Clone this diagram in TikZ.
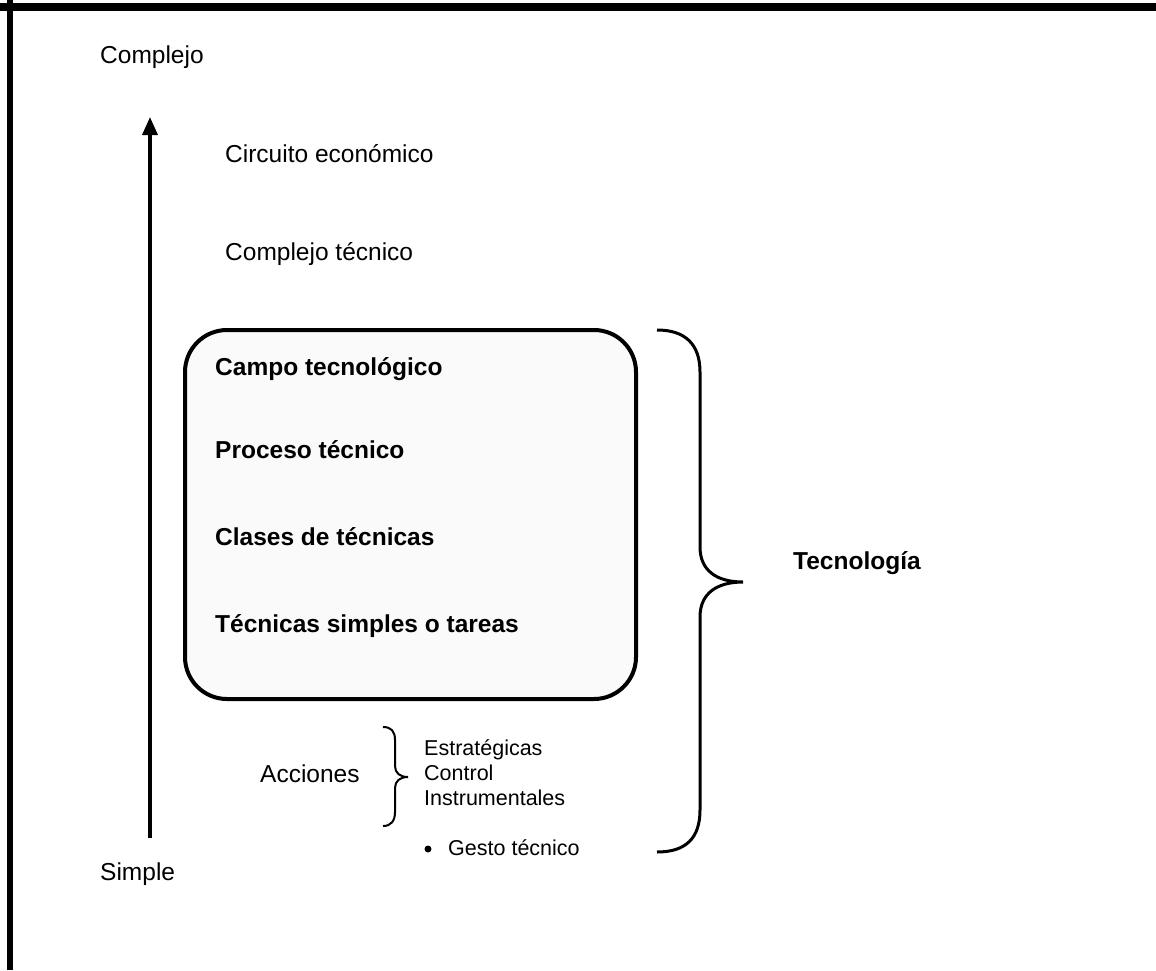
\documentclass[tikz,border=0pt]{standalone}
\usepackage{fontspec}
\setmainfont{Liberation Sans}
\usetikzlibrary{arrows.meta}

\begin{document}
\begin{tikzpicture}[x=1pt,y=-1pt,
  lbl/.style={anchor=base west,inner sep=0pt,font=\fontsize{24.5}{29}\selectfont},
  blbl/.style={lbl,font=\fontsize{24.5}{29}\selectfont\bfseries},
  slbl/.style={anchor=base west,inner sep=0pt,font=\fontsize{21.5}{25}\selectfont}]
  \useasboundingbox (0,0) rectangle (1156,970);
  % marco
  \fill (0,3) rectangle (1156,11);
  \fill (7,0) rectangle (13,970);
  % eje
  \node[lbl] (complejo) at (100,63) {Complejo};
  \node[lbl] (simple) at (100,880) {Simple};
  \coordinate (bajo) at (150,838);
  \coordinate (alto) at (150,117);
  \draw[line width=3.5,-{Triangle[length=18,width=15]}] (bajo) -- (alto);
  \node[lbl] (circuito) at (225,162) {Circuito económico};
  \node[lbl] (complejotec) at (225,260) {Complejo técnico};
  % caja
  \draw[line width=4,fill=black!2,rounded corners=42] (185,330) rectangle (636,699);
  \node[blbl] (campo) at (215,375) {Campo tecnológico};
  \node[blbl] (proceso) at (215,458) {Proceso técnico};
  \node[blbl] (clases) at (215,545) {Clases de técnicas};
  \node[blbl] (tareas) at (215,632) {Técnicas simples o tareas};
  % llave grande
  \draw[line width=3] (657,330) .. controls (686,330) and (700,345) .. (700,372) -- (700,547)
    .. controls (700,570) and (716,582) .. (743,582)
    .. controls (716,582) and (700,594) .. (700,617) -- (700,810)
    .. controls (700,838) and (686,852) .. (657,852);
  \node[blbl] (tecnologia) at (793,569) {Tecnología};
  % acciones
  \node[lbl] (acciones) at (260,782) {Acciones};
  \draw[line width=2] (383,727) .. controls (391,727) and (395,731) .. (395,740) -- (395,766)
    .. controls (395,773) and (400,777) .. (408,777)
    .. controls (400,777) and (395,781) .. (395,788) -- (395,812)
    .. controls (395,821) and (391,826) .. (383,826);
  \node[slbl] (estrategicas) at (424,755) {Estratégicas};
  \node[slbl] (control) at (424,780) {Control};
  \node[slbl] (instrumentales) at (424,805) {Instrumentales};
  \fill (428,849) circle (3.5);
  \node[slbl] (gesto) at (448,855) {Gesto técnico};
\end{tikzpicture}
\end{document}
